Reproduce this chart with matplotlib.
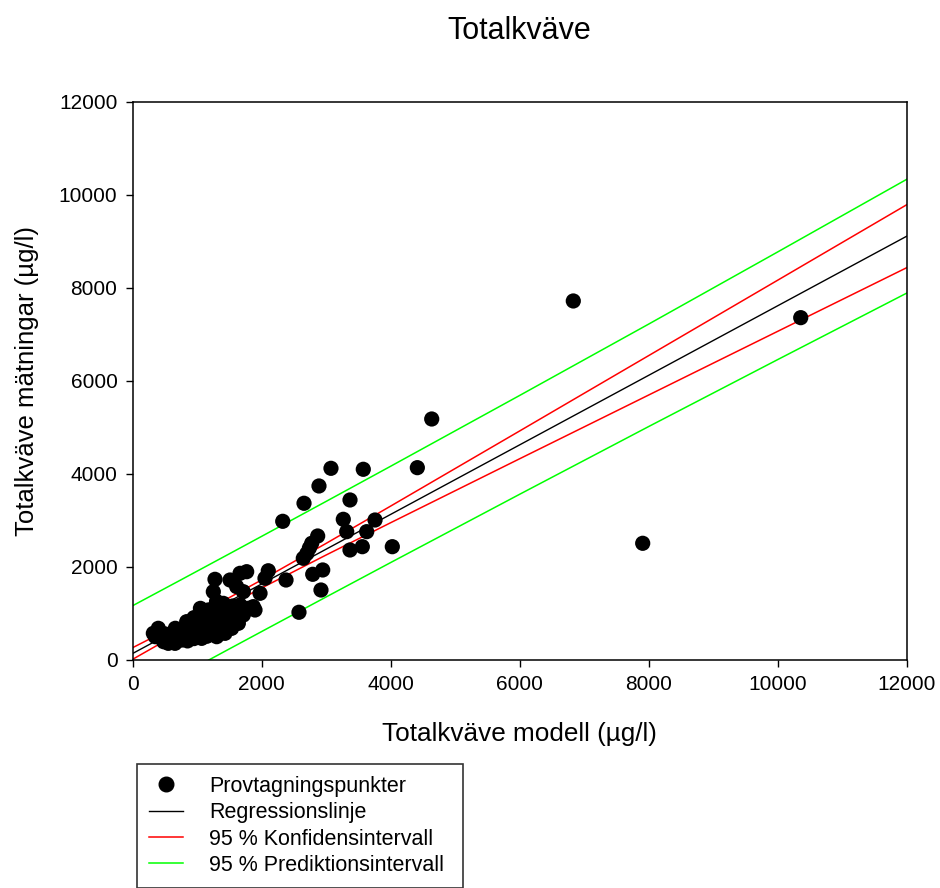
import numpy as np
import matplotlib
matplotlib.use('Agg')
import matplotlib.pyplot as plt
from matplotlib.lines import Line2D

plt.rcParams['font.family'] = ['Liberation Sans', 'DejaVu Sans']

# Sampling points (model vs measured total nitrogen, ug/l)
model_x = [
    # dense cluster
    351, 480, 713, 661, 320, 397, 449, 552, 630, 656, 759, 785, 888, 914,
    966, 992, 1069, 1069, 1121, 1173, 1173, 1224, 1250, 1276, 1302, 1354,
    1379, 1405, 1431, 1457, 1509, 1534, 1586, 1638, 1664, 1715, 1793, 1896,
    1000, 1100, 1200, 900, 800, 700, 600, 500, 1050, 1150, 950, 1350, 1250,
    1450, 1550, 1300, 1000, 1200, 837, 1043, 1147, 1302, 1560, 1612,
    1350, 1450, 1500, 1250, 1150, 950, 850, 750, 1650, 1400,
    # upper part of cluster
    1276, 1250, 1509, 1664, 1767, 1612, 1715, 1870, 1974, 2051, 2102, 2377,
    # mid range
    2578, 2645, 2700, 2740, 2775, 2868, 2791, 2946, 2919, 2326, 2656, 2888,
    3074, 3575, 3369, 3265, 3318, 3628, 3757, 3369, 3560, 4025, 4413, 4636,
    # high values
    6831, 7907, 10357,
]
measured_y = [
    491, 383, 420, 671, 563, 671, 491, 348, 527, 348, 419, 635, 706, 491,
    814, 599, 957, 455, 742, 1065, 527, 886, 670, 1137, 491, 993,
    742, 1208, 563, 886, 1101, 670, 957, 778, 1172, 957, 1101, 1065,
    800, 950, 1000, 700, 600, 550, 500, 550, 1100, 1050, 900, 1100, 900,
    1000, 1150, 1250, 600, 700, 814, 706, 886, 706, 742, 792,
    650, 750, 850, 600, 500, 450, 400, 450, 900, 950,
    1725, 1459, 1710, 1854, 1889, 1567, 1459, 1137, 1424, 1747, 1909, 1710,
    1016, 2177, 2280, 2400, 2500, 2657, 1833, 1926, 1495, 2973, 3361, 3733,
    4113, 4092, 3432, 3016, 2750, 2750, 3001, 2356, 2427, 2427, 4127, 5174,
    7713, 2500, 7354,
]

# Regression line and 95 % bands, read at these x positions
line_x = [0, 750, 1500, 2000, 3000, 4000, 6000, 8000, 10000, 12000]
reg_y = [130, 691, 1252, 1626, 2374, 3122, 4618, 6114, 7610, 9106]
ci_upper = [255, 785, 1333, 1713, 2499, 3301, 4917, 6538, 8160, 9783]
ci_lower = [5, 597, 1171, 1539, 2249, 2943, 4319, 5690, 7060, 8429]
pi_upper = [1158, 1715, 2275, 2650, 3402, 4158, 5681, 7216, 8768, 10330]
pi_lower = [-898, -333, 229, 602, 1346, 2086, 3555, 5012, 6452, 7882]

x_ticks = [0, 2000, 4000, 6000, 8000, 10000, 12000]
y_ticks = [0, 2000, 4000, 6000, 8000, 10000, 12000]

fig = plt.figure(figsize=(9.4, 8.88), dpi=100)
ax = fig.add_axes([132.7 / 940, 1 - 659.5 / 888, 774 / 940, 557.8 / 888])

ax.plot(line_x, pi_upper, color='#00ff00', lw=1.1, zorder=2)
ax.plot(line_x, pi_lower, color='#00ff00', lw=1.1, zorder=2)
ax.plot(line_x, ci_upper, color='#ff0000', lw=1.1, zorder=2)
ax.plot(line_x, ci_lower, color='#ff0000', lw=1.1, zorder=2)
ax.plot(line_x, reg_y, color='black', lw=1.0, zorder=3)
ax.scatter(model_x, measured_y, s=120, color='black', edgecolors='none', zorder=4)

ax.set_xlim(0, 12000)
ax.set_ylim(0, 12000)
ax.set_xticks(x_ticks)
ax.set_yticks(y_ticks)
ax.tick_params(direction='out', length=5, width=1, labelsize=15, pad=6)
for sp in ax.spines.values():
    sp.set_linewidth(1.1)

ax.set_title('Totalkväve', fontsize=22, pad=45)
ax.set_xlabel('Totalkväve modell (µg/l)', fontsize=18.8, labelpad=20)
ax.set_ylabel('Totalkväve mätningar (µg/l)', fontsize=18.5, labelpad=14)

handles = [
    Line2D([], [], marker='o', color='black', ls='none', markersize=10.5),
    Line2D([], [], color='black', lw=1.0),
    Line2D([], [], color='#ff0000', lw=1.1),
    Line2D([], [], color='#00ff00', lw=1.1),
]
labels = ['Provtagningspunkter', 'Regressionslinje',
          '95 % Konfidensintervall', '95 % Prediktionsintervall']
leg = fig.legend(handles, labels, loc='upper left',
                 bbox_to_anchor=(137 / 940, 1 - 885 / 888, 326 / 940, 121 / 888),
                 mode='expand', fontsize=15.5, frameon=True, fancybox=False,
                 edgecolor='black', handlelength=1.6, handletextpad=1.2,
                 labelspacing=0.25, borderpad=0.55, borderaxespad=0)
leg.get_frame().set_linewidth(1.2)

plt.savefig('out.png', dpi=100)
plt.close()
